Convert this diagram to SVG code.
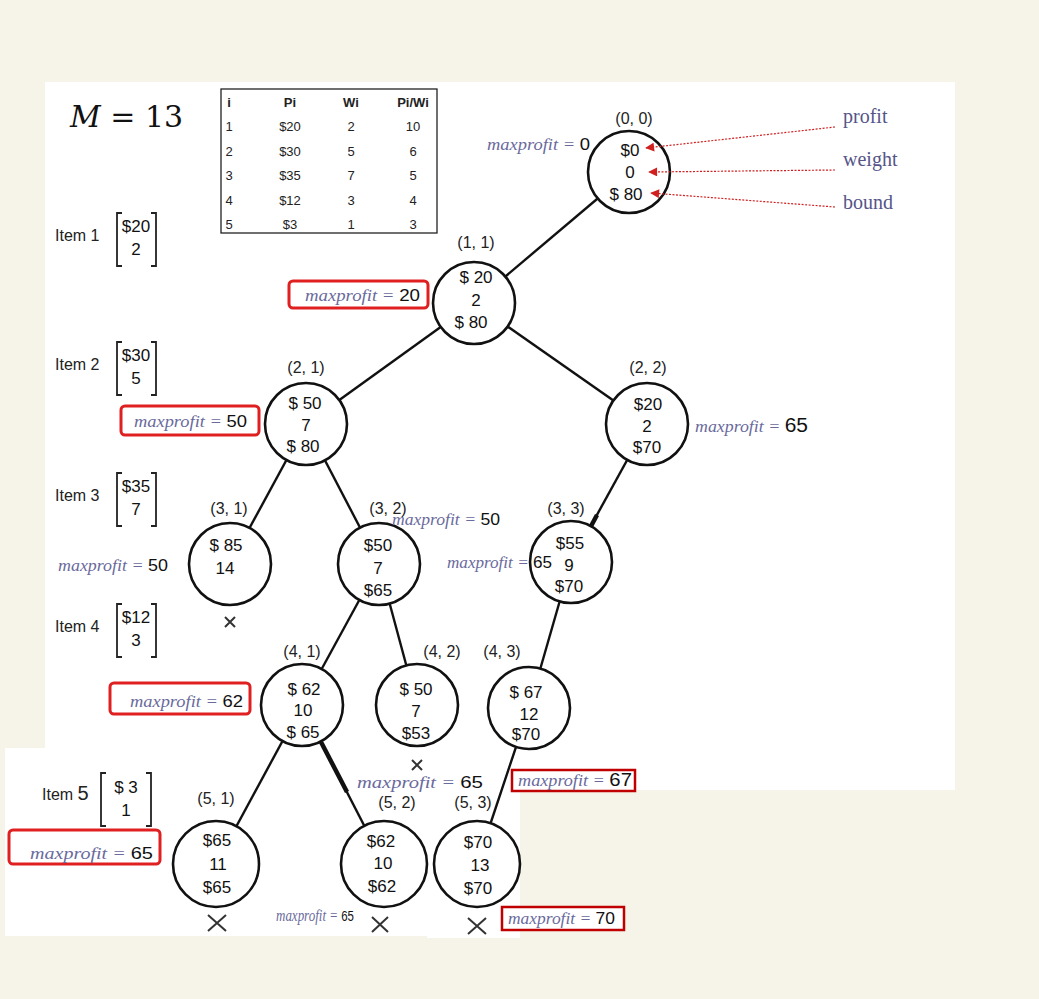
<svg xmlns="http://www.w3.org/2000/svg" width="1039" height="999" viewBox="0 0 1039 999">
<defs>
<style>
.lbl{font-family:"Liberation Sans",Arial,sans-serif;font-size:16px;fill:#222;text-anchor:middle}
.val{font-family:"Liberation Sans",Arial,sans-serif;font-size:17px;fill:#111;text-anchor:middle}
.mp{font-family:"Liberation Serif","Times New Roman",serif;font-style:italic;font-size:17px;fill:#6a6a9c}
.num{font-style:normal;fill:#111;font-family:"Liberation Sans",Arial,sans-serif}
.nd{fill:#fff;stroke:#111;stroke-width:2.6}
.ed{stroke:#111;stroke-width:2.4;fill:none}
.thk{stroke:#111;stroke-width:4.5}
.rb{fill:#fff;stroke:#e02020;stroke-width:3}
.rb2{fill:#fff;stroke:#c00000;stroke-width:2.5}
.tb{font-family:"Liberation Sans",Arial,sans-serif;font-size:13px;fill:#222;text-anchor:middle}
.it{font-family:"Liberation Sans",Arial,sans-serif;font-size:16px;fill:#222}
.br{fill:none;stroke:#222;stroke-width:1.8}
.leg{font-family:"Liberation Serif","Times New Roman",serif;font-size:20px;fill:#555588}
.arr{stroke:#d02020;stroke-width:1.2;stroke-dasharray:2 1.5;fill:none}
.x{stroke:#333;stroke-width:2;fill:none}
</style>
<marker id="ah" viewBox="0 0 10 10" refX="9" refY="5" markerWidth="10" markerHeight="9" orient="auto" markerUnits="userSpaceOnUse">
<path d="M0,0 L10,5 L0,10 z" fill="#d02020"/>
</marker>
</defs>
<rect x="0" y="0" width="1039" height="999" fill="#f6f4e8"/>
<rect x="45" y="82" width="910" height="708" fill="#fff"/>
<rect x="5" y="748" width="422" height="188" fill="#fff"/>
<rect x="427" y="790" width="93" height="148" fill="#fff"/>

<g id="title"><text x="70" y="127" font-family="'DejaVu Serif','Liberation Serif',serif" font-size="30" fill="#111"><tspan font-style="italic">M</tspan> = 13</text></g>

<g id="table">
<rect x="221" y="89" width="216" height="144" fill="#fff" stroke="#222" stroke-width="1.3"/>
<g class="tb">
<text x="229" y="107" font-weight="bold">i</text><text x="290" y="107" font-weight="bold">Pi</text><text x="351" y="107" font-weight="bold">Wi</text><text x="413" y="107" font-weight="bold">Pi/Wi</text>
<text x="229" y="131">1</text><text x="290" y="131">$20</text><text x="351" y="131">2</text><text x="413" y="131">10</text>
<text x="229" y="156">2</text><text x="290" y="156">$30</text><text x="351" y="156">5</text><text x="413" y="156">6</text>
<text x="229" y="180">3</text><text x="290" y="180">$35</text><text x="351" y="180">7</text><text x="413" y="180">5</text>
<text x="229" y="205">4</text><text x="290" y="205">$12</text><text x="351" y="205">3</text><text x="413" y="205">4</text>
<text x="229" y="229">5</text><text x="290" y="229">$3</text><text x="351" y="229">1</text><text x="413" y="229">3</text>
</g>
</g>

<g id="items">
<g id="item1"><text class="it" x="55" y="241">Item 1</text><path class="br" d="M122,213 h-5 v53 h5 M151,213 h5 v53 h-5"/><text class="val" x="136" y="232">$20</text><text class="val" x="136" y="255">2</text></g>
<g id="item2"><text class="it" x="55" y="370">Item 2</text><path class="br" d="M122,342 h-5 v53 h5 M151,342 h5 v53 h-5"/><text class="val" x="136" y="361">$30</text><text class="val" x="136" y="384">5</text></g>
<g id="item3"><text class="it" x="55" y="501">Item 3</text><path class="br" d="M122,473 h-5 v53 h5 M151,473 h5 v53 h-5"/><text class="val" x="136" y="492">$35</text><text class="val" x="136" y="515">7</text></g>
<g id="item4"><text class="it" x="55" y="632">Item 4</text><path class="br" d="M122,604 h-5 v53 h5 M151,604 h5 v53 h-5"/><text class="val" x="136" y="623">$12</text><text class="val" x="136" y="646">3</text></g>
<g id="item5"><text class="it" x="42" y="800">Item <tspan font-size="20">5</tspan></text><path class="br" d="M106,773 h-5 v53 h5 M146,773 h5 v53 h-5"/><text class="val" x="126" y="793">$ 3</text><text class="val" x="126" y="816">1</text></g>
</g>

<g id="connectors">
<line class="ed" x1="629" y1="172" x2="474" y2="303"/>
<line class="ed" x1="474" y1="303" x2="306" y2="424"/>
<line class="ed" x1="474" y1="303" x2="647" y2="424"/>
<line class="ed" x1="306" y1="424" x2="230" y2="564"/>
<line class="ed" x1="306" y1="424" x2="379" y2="564"/>
<line class="ed" x1="647" y1="424" x2="571" y2="562"/>
<line class="thk" x1="597" y1="515" x2="590" y2="528"/>
<line class="ed" x1="379" y1="564" x2="302" y2="705"/>
<line class="ed" x1="379" y1="564" x2="417" y2="705"/>
<line class="ed" x1="571" y1="562" x2="529" y2="708"/>
<line class="ed" x1="302" y1="705" x2="216" y2="864"/>
<line class="ed" x1="302" y1="705" x2="384" y2="864"/>
<line class="thk" x1="321" y1="742" x2="347" y2="792"/>
<line class="ed" x1="529" y1="708" x2="477" y2="864"/>
</g>

<g id="n00"><text class="lbl" x="634" y="124">(0, 0)</text><circle class="nd" cx="629" cy="172" r="41"/><text class="val" x="630" y="156">$0</text><text class="val" x="630" y="178">0</text><text class="val" x="626" y="200">$ 80</text></g>
<g id="n11"><text class="lbl" x="476" y="248">(1, 1)</text><circle class="nd" cx="474" cy="303" r="41"/><text class="val" x="476" y="283">$ 20</text><text class="val" x="476" y="306">2</text><text class="val" x="471" y="328">$ 80</text></g>
<g id="n21"><text class="lbl" x="306" y="373">(2, 1)</text><circle class="nd" cx="306" cy="424" r="41"/><text class="val" x="305" y="409">$ 50</text><text class="val" x="306" y="431">7</text><text class="val" x="303" y="452">$ 80</text></g>
<g id="n22"><text class="lbl" x="648" y="373">(2, 2)</text><circle class="nd" cx="647" cy="424" r="41"/><text class="val" x="648" y="410">$20</text><text class="val" x="647" y="432">2</text><text class="val" x="647" y="453">$70</text></g>
<g id="n31"><text class="lbl" x="229" y="514">(3, 1)</text><circle class="nd" cx="230" cy="564" r="41"/><text class="val" x="226" y="551">$ 85</text><text class="val" x="225" y="574">14</text></g>
<g id="n32"><text class="lbl" x="388" y="514">(3, 2)</text><circle class="nd" cx="379" cy="564" r="41"/><text class="val" x="378" y="551">$50</text><text class="val" x="378" y="574">7</text><text class="val" x="378" y="596">$65</text></g>
<g id="n33"><text class="lbl" x="566" y="514">(3, 3)</text><circle class="nd" cx="571" cy="562" r="41"/><text class="val" x="570" y="549">$55</text><text class="val" x="569" y="571">9</text><text class="val" x="569" y="592">$70</text></g>
<g id="n41"><text class="lbl" x="302" y="657">(4, 1)</text><circle class="nd" cx="302" cy="705" r="41"/><text class="val" x="304" y="695">$ 62</text><text class="val" x="303" y="716">10</text><text class="val" x="303" y="738">$ 65</text></g>
<g id="n42"><text class="lbl" x="442" y="657">(4, 2)</text><circle class="nd" cx="417" cy="705" r="41"/><text class="val" x="416" y="695">$ 50</text><text class="val" x="416" y="717">7</text><text class="val" x="416" y="739">$53</text></g>
<g id="n43"><text class="lbl" x="502" y="657">(4, 3)</text><circle class="nd" cx="529" cy="708" r="41"/><text class="val" x="526" y="698">$ 67</text><text class="val" x="529" y="720">12</text><text class="val" x="526" y="740">$70</text></g>
<g id="n51"><text class="lbl" x="216" y="804">(5, 1)</text><circle class="nd" cx="216" cy="864" r="43"/><text class="val" x="217" y="846">$65</text><text class="val" x="218" y="870">11</text><text class="val" x="217" y="893">$65</text></g>
<g id="n52"><text class="lbl" x="397" y="808">(5, 2)</text><circle class="nd" cx="384" cy="864" r="43"/><text class="val" x="381" y="847">$62</text><text class="val" x="383" y="869">10</text><text class="val" x="382" y="892">$62</text></g>
<g id="n53"><text class="lbl" x="473" y="808">(5, 3)</text><circle class="nd" cx="477" cy="864" r="43"/><text class="val" x="478" y="848">$70</text><text class="val" x="480" y="871">13</text><text class="val" x="478" y="894">$70</text></g>

<g id="legend">
<text class="leg" x="843" y="123">profit</text>
<text class="leg" x="843" y="166">weight</text>
<text class="leg" x="843" y="209">bound</text>
<line class="arr" x1="835" y1="127" x2="646" y2="148" marker-end="url(#ah)"/>
<line class="arr" x1="835" y1="170" x2="649" y2="172" marker-end="url(#ah)"/>
<line class="arr" x1="835" y1="207" x2="651" y2="193" marker-end="url(#ah)"/>
</g>

<g id="crosses">
<path class="x" d="M225,617 l10,10 M235,617 l-10,10"/>
<path class="x" d="M412,760 l10,10 M422,760 l-10,10"/>
<path class="x" d="M208,915 l18,16 M226,915 l-18,16" stroke-width="3"/>
<path class="x" d="M372,917 l16,15 M388,917 l-16,15" stroke-width="3"/>
<path class="x" d="M468,918 l18,16 M486,918 l-18,16" stroke-width="3"/>
</g>

<g id="maxprofits">
<text class="mp" x="487" y="150" textLength="103" lengthAdjust="spacingAndGlyphs">maxprofit = <tspan class="num">0</tspan></text>
<rect class="rb" x="289" y="281" width="139" height="27" rx="4"/>
<text class="mp" x="305" y="301" textLength="115" lengthAdjust="spacingAndGlyphs">maxprofit = <tspan class="num">20</tspan></text>
<rect class="rb" x="121" y="406" width="138" height="29" rx="4"/>
<text class="mp" x="134" y="427" textLength="113" lengthAdjust="spacingAndGlyphs">maxprofit = <tspan class="num">50</tspan></text>
<text class="mp" x="695" y="432" textLength="113" lengthAdjust="spacingAndGlyphs">maxprofit = <tspan class="num" font-size="20">65</tspan></text>
<text class="mp" x="58" y="571" textLength="110" lengthAdjust="spacingAndGlyphs">maxprofit = <tspan class="num">50</tspan></text>
<text class="mp" x="392" y="525" textLength="108" lengthAdjust="spacingAndGlyphs">maxprofit = <tspan class="num">50</tspan></text>
<text class="mp" x="447" y="568" font-size="15" textLength="105" lengthAdjust="spacingAndGlyphs">maxprofit = <tspan class="num" font-size="17">65</tspan></text>
<rect class="rb" x="110" y="683" width="140" height="31" rx="4"/>
<text class="mp" x="130" y="707" textLength="113" lengthAdjust="spacingAndGlyphs">maxprofit = <tspan class="num">62</tspan></text>
<text class="mp" x="357" y="788" font-size="18" textLength="126" lengthAdjust="spacingAndGlyphs">maxprofit = <tspan class="num">65</tspan></text>
<rect class="rb2" x="512" y="770" width="123" height="21"/>
<text class="mp" x="518" y="786" textLength="114" lengthAdjust="spacingAndGlyphs">maxprofit = <tspan class="num" font-size="19">67</tspan></text>
<rect class="rb" x="9" y="830" width="151" height="34" rx="4"/>
<text class="mp" x="30" y="859" font-size="19" textLength="123" lengthAdjust="spacingAndGlyphs">maxprofit = <tspan class="num">65</tspan></text>
<text class="mp" x="276" y="921" font-size="12" textLength="78" lengthAdjust="spacingAndGlyphs">maxprofit = <tspan class="num" font-size="15">65</tspan></text>
<rect class="rb2" x="502" y="907" width="122" height="23"/>
<text class="mp" x="508" y="924" textLength="107" lengthAdjust="spacingAndGlyphs">maxprofit = <tspan class="num">70</tspan></text>
</g>
</svg>
